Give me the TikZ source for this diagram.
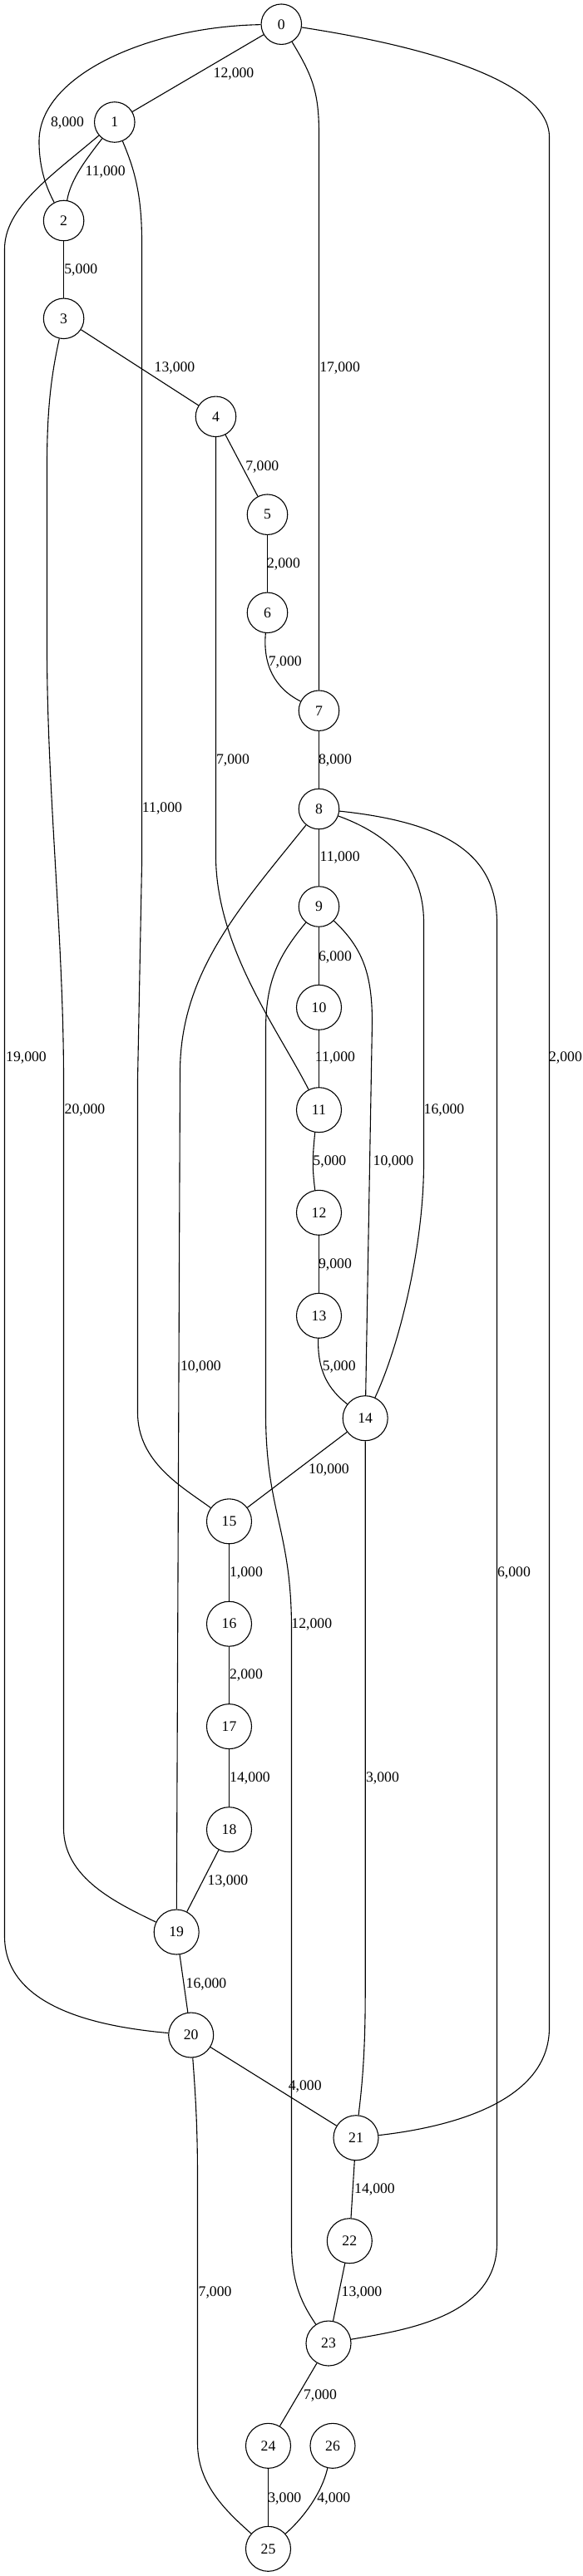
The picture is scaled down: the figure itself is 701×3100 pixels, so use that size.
\documentclass[tikz,border=0pt]{standalone}
\usepackage{fontspec}
\setmainfont{Liberation Serif}
\begin{document}
\begin{tikzpicture}[x=1pt,y=-1pt,
  every node/.style={font=\fontsize{17.7}{20}\selectfont},
  vx/.style={circle,draw,line width=1.1pt,inner sep=0pt,minimum size=48.5pt},
  vxx/.style={vx,minimum size=54pt},
  lbl/.style={inner sep=0pt},
  ln/.style={line width=1.1pt}]
\useasboundingbox[fill=white] (0,0) rectangle (701,3100);
% nodes
\node[vx] (n0) at (338.3,29.2) {0};
\node[vx] (n1) at (137.8,147) {1};
\node[vx] (n2) at (76.6,265.5) {2};
\node[vx] (n3) at (76.6,383.3) {3};
\node[vx] (n4) at (259.5,501.3) {4};
\node[vx] (n5) at (321.5,619.2) {5};
\node[vx] (n6) at (321.5,737.3) {6};
\node[vx] (n7) at (383.5,855.2) {7};
\node[vx] (n8) at (383.5,973.5) {8};
\node[vx] (n9) at (383.5,1091) {9};
\node[vxx] (n10) at (383.5,1212.3) {10};
\node[vxx] (n11) at (383.5,1335.7) {11};
\node[vxx] (n12) at (383.5,1459.3) {12};
\node[vxx] (n13) at (383.5,1583.3) {13};
\node[vxx] (n14) at (439.2,1706.7) {14};
\node[vxx] (n15) at (275.5,1830.8) {15};
\node[vxx] (n16) at (275.5,1954.2) {16};
\node[vxx] (n17) at (275.5,2077.6) {17};
\node[vxx] (n18) at (275.5,2201.7) {18};
\node[vxx] (n19) at (212.2,2325) {19};
\node[vxx] (n20) at (229.7,2449) {20};
\node[vxx] (n21) at (428,2572.7) {21};
\node[vxx] (n22) at (420.3,2696.7) {22};
\node[vxx] (n23) at (395,2820) {23};
\node[vxx] (n24) at (322.5,2943.3) {24};
\node[vxx] (n26) at (400,2943.3) {26};
\node[vxx] (n25) at (322.5,3067.3) {25};
% edges
\draw[ln] (n0) -- (n1);
\draw[ln] (n0) .. controls (180,32) and (47,90) .. (47,170) .. controls (47,205) and (57,228) .. (n2);
\draw[ln] (n1) .. controls (105,190) and (85,215) .. (n2);
\draw[ln] (n1) .. controls (60,213) and (5.5,250) .. (5.5,300) -- (5.5,2330) .. controls (5.5,2420) and (130,2440) .. (n20);
\draw[ln] (n1) .. controls (160,200) and (170.5,230) .. (170.5,290) -- (170.5,1040) -- (165.5,1300) -- (165.5,1700) .. controls (165.5,1760) and (220,1790) .. (n15);
\draw[ln] (n0) .. controls (375,90) and (383.5,110) .. (383.5,160) -- (n7);
\draw[ln] (n0) .. controls (520,57) and (660.5,100) .. (660.5,165) -- (660.5,2440) .. controls (660.5,2530) and (540,2560) .. (n21);
\draw[ln] (n2) -- (n3);
\draw[ln] (n3) -- (n4);
\draw[ln] (n3) .. controls (62,450) and (56.5,490) .. (56.5,560) -- (56.5,780) .. controls (56.5,950) and (76.5,1130) .. (76.5,1300) -- (76.5,2200) .. controls (76.5,2260) and (140,2290) .. (n19);
\draw[ln] (n4) -- (n5);
\draw[ln] (n4) -- (259.5,1030) .. controls (259.5,1140) and (335,1240) .. (n11);
\draw[ln] (n5) -- (n6);
\draw[ln] (n6) .. controls (316,800) and (330,828) .. (n7);
\draw[ln] (n7) -- (n8);
\draw[ln] (n8) -- (n9);
\draw[ln] (n8) .. controls (290,1090) and (216.5,1170) .. (216.5,1290) -- (n19);
\draw[ln] (n8) .. controls (470,1005) and (509.5,1045) .. (509.5,1110) -- (509.5,1400) .. controls (509.5,1500) and (480,1620) .. (n14);
\draw[ln] (n8) .. controls (540,990) and (597.5,1030) .. (597.5,1110) -- (597.5,2700) .. controls (597.5,2790) and (480,2805) .. (n23);
\draw[ln] (n9) -- (n10);
\draw[ln] (n9) .. controls (435,1140) and (447.5,1170) .. (447.5,1230) -- (n14);
\draw[ln] (n9) .. controls (335,1150) and (319.5,1180) .. (319.5,1240) -- (319.5,1700) .. controls (319.5,1820) and (350.5,1840) .. (350.5,1960) -- (350.5,2700) .. controls (350.5,2750) and (365,2775) .. (n23);
\draw[ln] (n10) -- (n11);
\draw[ln] (n11.-100) .. controls (375.5,1395) and (375.5,1405) .. (n12.100);
\draw[ln] (n12) -- (n13);
\draw[ln] (n13) .. controls (381.5,1650) and (395,1672) .. (n14);
\draw[ln] (n14) -- (439.2,2400) .. controls (439.2,2480) and (434,2520) .. (n21);
\draw[ln] (n14) -- (n15);
\draw[ln] (n15) -- (n16);
\draw[ln] (n16) -- (n17);
\draw[ln] (n17) -- (n18);
\draw[ln] (n18) -- (n19);
\draw[ln] (n19) -- (n20);
\draw[ln] (n20) -- (n21);
\draw[ln] (n20) .. controls (235,2520) and (237.5,2560) .. (237.5,2620) -- (237.5,2940) .. controls (237.5,2990) and (272,3022) .. (n25);
\draw[ln] (n21) -- (n22);
\draw[ln] (n22) -- (n23);
\draw[ln] (n23) -- (n24);
\draw[ln] (n24) -- (n25);
\draw[ln] (n26) .. controls (387,3000) and (365,3030) .. (n25);
% labels
\node[lbl] (a01) at (281,89.3) {12,000};
\node[lbl] (a02) at (81,148.3) {8,000};
\node[lbl] (a12) at (126.6,207.3) {11,000};
\node[lbl] (a23) at (97.3,325) {5,000};
\node[lbl] (a34) at (210,442.7) {13,000};
\node[lbl] (a07) at (408.6,442.7) {17,000};
\node[lbl] (a45) at (315.3,561.7) {7,000};
\node[lbl] (a56) at (341,679.3) {2,000};
\node[lbl] (a67) at (342.8,796.7) {7,000};
\node[lbl] (a411) at (280,915) {7,000};
\node[lbl] (a78) at (403,915) {8,000};
\node[lbl] (a115) at (195,973.3) {11,000};
\node[lbl] (a89) at (408.6,1032.3) {11,000};
\node[lbl] (a910) at (403,1151.7) {6,000};
\node[lbl] (a120) at (31.5,1273.3) {19,000};
\node[lbl] (a1011) at (403,1273.3) {11,000};
\node[lbl] (a021) at (680,1273.3) {2,000};
\node[lbl] (a319) at (102,1335.7) {20,000};
\node[lbl] (a814) at (534,1335.7) {16,000};
\node[lbl] (a1112) at (396.4,1398.3) {5,000};
\node[lbl] (a914) at (473,1398.3) {10,000};
\node[lbl] (a1213) at (403,1521.7) {9,000};
\node[lbl] (a819) at (241.4,1645) {10,000};
\node[lbl] (a1314) at (407.7,1645) {5,000};
\node[lbl] (a1415) at (395.5,1769.3) {10,000};
\node[lbl] (a1516) at (296,1892.7) {1,000};
\node[lbl] (a823) at (618,1892.7) {6,000};
\node[lbl] (a923) at (374.8,1955) {12,000};
\node[lbl] (a1617) at (296,2016) {2,000};
\node[lbl] (a1718) at (300.5,2140) {14,000};
\node[lbl] (a1421) at (460,2140) {3,000};
\node[lbl] (a1819) at (274,2264) {13,000};
\node[lbl] (a1920) at (248,2388.3) {16,000};
\node[lbl] (a2021) at (366.7,2511) {4,000};
\node[lbl] (a2122) at (450.5,2635) {14,000};
\node[lbl] (a2025) at (258.6,2759.3) {7,000};
\node[lbl] (a2223) at (435,2759.3) {13,000};
\node[lbl] (a2324) at (385,2882.7) {7,000};
\node[lbl] (a2425) at (342.3,3006.7) {3,000};
\node[lbl] (a2625) at (401.4,3006.7) {4,000};
\end{tikzpicture}
\end{document}
